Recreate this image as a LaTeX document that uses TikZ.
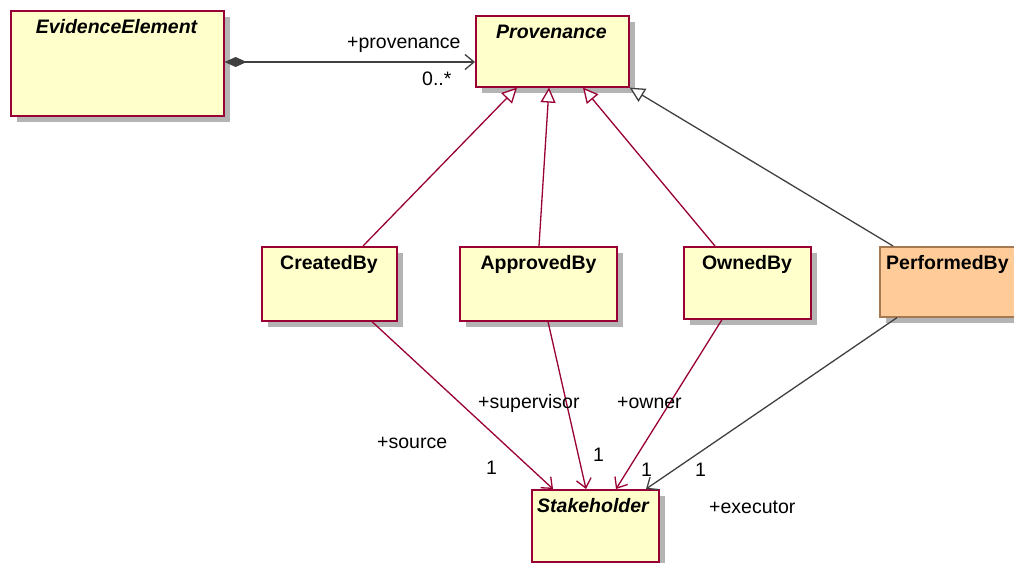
\documentclass[tikz,border=0pt]{standalone}
\usepackage{fontspec}
\setmainfont{Liberation Sans}
\usetikzlibrary{arrows.meta,shadows,calc}
\definecolor{cls}{HTML}{FFFFCC}
\definecolor{clsb}{HTML}{990033}
\definecolor{org}{HTML}{FFCC99}
\definecolor{orgb}{HTML}{A57A52}
\definecolor{ln}{HTML}{404040}
\definecolor{shd}{HTML}{B4B4B4}
\begin{document}
\begin{tikzpicture}[x=1pt,y=-1pt,
  every node/.style={font=\fontsize{19.5}{22}\selectfont, inner sep=0pt},
  box/.style={draw=clsb, fill=cls, line width=1.6pt, anchor=north west,
    drop shadow={shadow xshift=6pt,shadow yshift=-6pt,fill=shd,opacity=1}},
  obox/.style={box, draw=orgb, fill=org},
  ttl/.style={anchor=base, font=\fontsize{19.5}{22}\selectfont\bfseries},
  ttli/.style={anchor=base, font=\fontsize{19.5}{22}\selectfont\bfseries\itshape},
  lab/.style={anchor=base west, text=black},
  gen/.style={draw=clsb, line width=1.3pt, -{Triangle[length=15pt,width=15pt,fill=white]}},
  gengray/.style={gen, draw=ln},
  assoc/.style={draw=clsb, line width=1.3pt, -{Straight Barb[length=9pt,width=15pt]}},
  assocgray/.style={assoc, draw=ln},
  comp/.style={draw=ln, line width=1.3pt, {Diamond[length=22pt,width=10pt,fill=ln]}-{Straight Barb[length=9pt,width=15pt]}}
]
\useasboundingbox (0,0) rectangle (1014,562);
% classes
\node[box, minimum width=213pt, minimum height=105pt] (ee) at (10,10) {};
\node[ttli] (eeT) at (116.5,33) {EvidenceElement};
\node[box, minimum width=153pt, minimum height=71pt] (prov) at (475,15) {};
\node[ttli] (provT) at (551.5,38) {Provenance};
\node[box, minimum width=135pt, minimum height=74pt] (cb) at (261,246) {};
\node[ttl] (cbT) at (329,269) {CreatedBy};
\node[box, minimum width=157pt, minimum height=74pt] (ab) at (459,246) {};
\node[ttl] (abT) at (538.5,269) {ApprovedBy};
\node[box, minimum width=127pt, minimum height=72pt] (ob) at (683,246) {};
\node[ttl] (obT) at (747,269) {OwnedBy};
\node[obox, minimum width=150pt, minimum height=70pt] (pb) at (879,246) {};
\node[ttl, anchor=base west] (pbT) at (886,269) {PerformedBy};
\node[box, minimum width=127pt, minimum height=72pt] (sh) at (531,489) {};
\node[ttli] (shT) at (593,512) {Stakeholder};
% composition
\draw[comp] (ee.east |- 0,62) -- (prov.west |- 0,62);
\node[lab] (l1) at (347,48) {+provenance};
\node[lab] (l2) at (422,85) {0..*};
% generalizations
\draw[gen] ($(cb.north west)+(102,0)$) -- ($(prov.south west)+(42,0)$);
\draw[gen] ($(ab.north west)+(80,0)$) -- ($(prov.south west)+(74,0)$);
\draw[gen] ($(ob.north west)+(32,0)$) -- ($(prov.south west)+(108,0)$);
\draw[gengray] ($(pb.north west)+(14,0)$) -- (prov.south east);
% associations
\draw[assoc] ($(cb.south west)+(111,0)$) -- ($(sh.north west)+(22,0)$);
\draw[assoc] ($(ab.south west)+(89,0)$) -- ($(sh.north west)+(55,0)$);
\draw[assoc] ($(ob.south west)+(39,0)$) -- ($(sh.north west)+(85,0)$);
\draw[assocgray] ($(pb.south west)+(18,0)$) -- ($(sh.north west)+(115,0)$);
% labels
\node[lab] (l3) at (377,448) {+source};
\node[lab] (l4) at (486,474) {1};
\node[lab] (l5) at (478,408) {+supervisor};
\node[lab] (l6) at (593,461) {1};
\node[lab] (l7) at (617,408) {+owner};
\node[lab] (l8) at (641,476) {1};
\node[lab] (l9) at (695,476) {1};
\node[lab] (l10) at (709,513) {+executor};
\end{tikzpicture}
\end{document}
